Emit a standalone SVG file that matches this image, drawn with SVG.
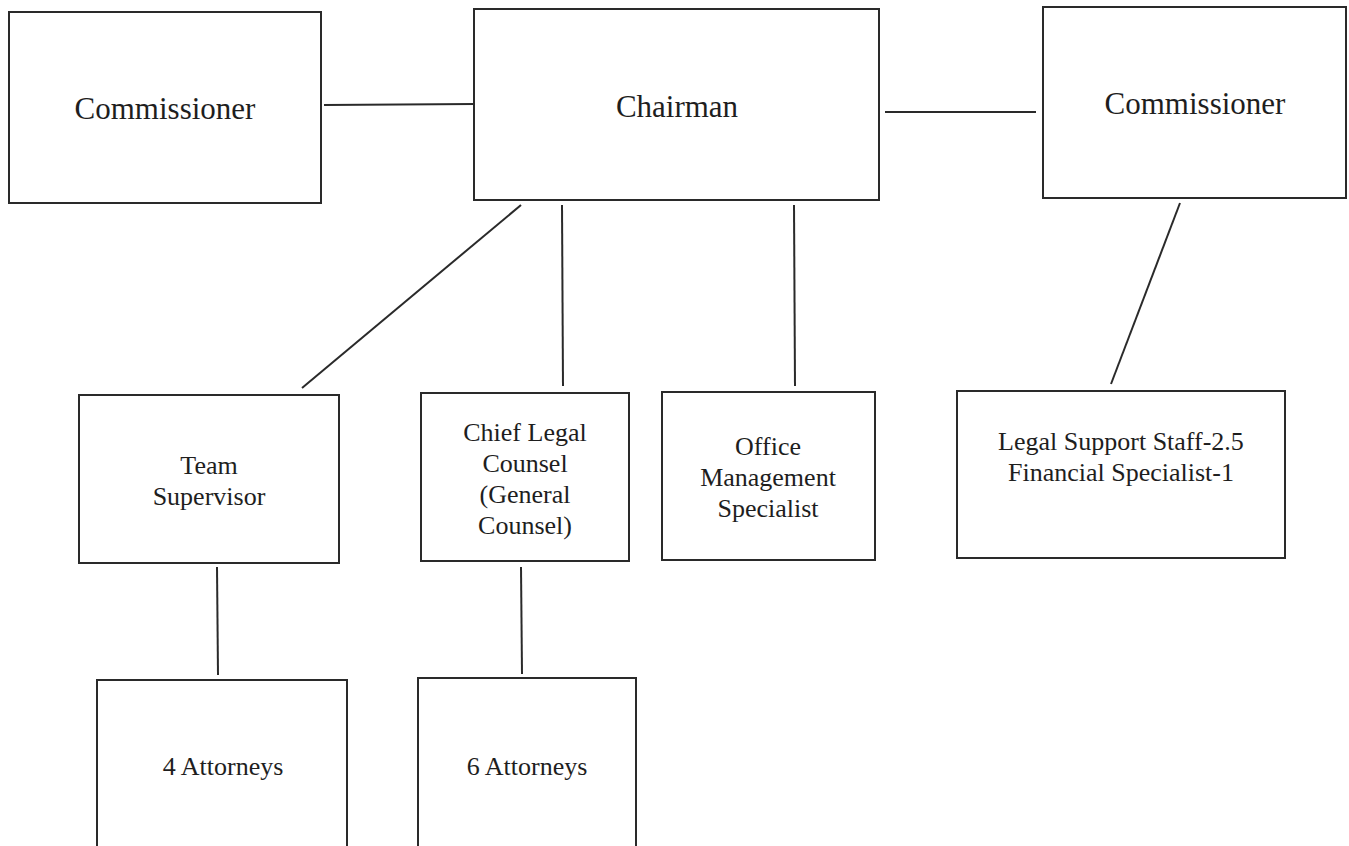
<svg xmlns="http://www.w3.org/2000/svg" width="1349" height="846" viewBox="0 0 1349 846">
<style>
.box{fill:#fff;stroke:#2a2a2a;stroke-width:2}
.ln{stroke:#2a2a2a;stroke-width:2;fill:none}
.big{font-family:"Liberation Serif","Times New Roman",serif;font-size:31px;fill:#1e1e1e;text-anchor:middle}
.sm{font-family:"Liberation Serif","Times New Roman",serif;font-size:26px;fill:#1e1e1e;text-anchor:middle}
</style>
<rect width="1349" height="846" fill="#fff"/>
<g id="connectors">
<line class="ln" x1="324" y1="105" x2="475" y2="104"/>
<line class="ln" x1="885" y1="112" x2="1036" y2="112"/>
<line class="ln" x1="521" y1="205" x2="302" y2="388"/>
<line class="ln" x1="562" y1="205" x2="563" y2="386"/>
<line class="ln" x1="794" y1="205" x2="795" y2="386"/>
<line class="ln" x1="1180" y1="203" x2="1111" y2="384"/>
<line class="ln" x1="217" y1="567" x2="218" y2="675"/>
<line class="ln" x1="521" y1="567" x2="522" y2="674"/>
</g>
<g id="commissioner-left">
<rect class="box" x="9" y="12" width="312" height="191"/>
<text class="big" x="165" y="119">Commissioner</text>
</g>
<g id="chairman">
<rect class="box" x="474" y="9" width="405" height="191"/>
<text class="big" x="677" y="117">Chairman</text>
</g>
<g id="commissioner-right">
<rect class="box" x="1043" y="7" width="303" height="191"/>
<text class="big" x="1195" y="114">Commissioner</text>
</g>
<g id="team-supervisor">
<rect class="box" x="79" y="395" width="260" height="168"/>
<text class="sm" x="209" y="474">Team</text>
<text class="sm" x="209" y="505">Supervisor</text>
</g>
<g id="chief-legal-counsel">
<rect class="box" x="421" y="393" width="208" height="168"/>
<text class="sm" x="525" y="441">Chief Legal</text>
<text class="sm" x="525" y="472">Counsel</text>
<text class="sm" x="525" y="503">(General</text>
<text class="sm" x="525" y="534">Counsel)</text>
</g>
<g id="office-management">
<rect class="box" x="662" y="392" width="213" height="168"/>
<text class="sm" x="768" y="455">Office</text>
<text class="sm" x="768" y="486">Management</text>
<text class="sm" x="768" y="517">Specialist</text>
</g>
<g id="legal-support">
<rect class="box" x="957" y="391" width="328" height="167"/>
<text class="sm" x="1121" y="450">Legal Support Staff-2.5</text>
<text class="sm" x="1121" y="481">Financial Specialist-1</text>
</g>
<g id="four-attorneys">
<rect class="box" x="97" y="680" width="250" height="175"/>
<text class="sm" x="223" y="775">4 Attorneys</text>
</g>
<g id="six-attorneys">
<rect class="box" x="418" y="678" width="218" height="177"/>
<text class="sm" x="527" y="775">6 Attorneys</text>
</g>
</svg>
